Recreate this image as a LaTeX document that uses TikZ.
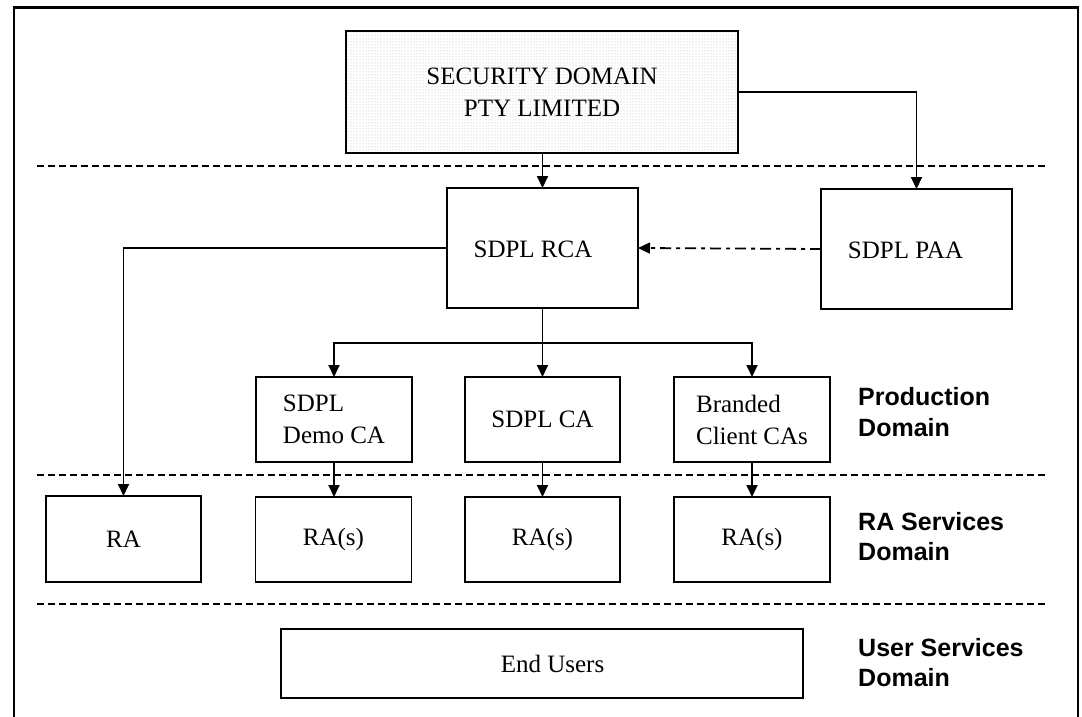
\documentclass[tikz,border=0pt]{standalone}
\usepackage{fontspec}
\setmainfont{Liberation Serif}
\newfontfamily\lsans{Liberation Sans}
\usetikzlibrary{arrows.meta,patterns}
\begin{document}
\begin{tikzpicture}[x=1pt,y=-1pt,
  box/.style={draw,line width=1.8pt,rectangle,inner sep=0pt,outer sep=0pt,
    font=\fontsize{25}{32}\selectfont,align=left},
  txt/.style={inner sep=0pt,font=\fontsize{25}{32}\selectfont},
  lab/.style={inner sep=0pt,anchor=west,align=left,
    font=\lsans\bfseries\fontsize{25}{30.5}\selectfont},
  arr/.style={line width=1.8pt,-{Triangle[length=12pt,width=11pt]}},
  conn/.style={line width=1.8pt},
  sep/.style={line width=1.8pt,dash pattern=on 7pt off 4pt},
  dashdot/.style={line width=1.8pt,dash pattern=on 11pt off 5pt on 4pt off 5pt,
    -{Triangle[length=12pt,width=11pt]}}]
\useasboundingbox (0,0) rectangle (1082,717);
% frame
\draw[line width=2.6pt] (14,717) -- (14,7.7) -- (1078,7.7) -- (1078,717);
% separators
\draw[sep] (37,166) -- (1048,166);
\draw[sep] (37,475) -- (1048,475);
\draw[sep] (37,604) -- (1048,604);
% boxes
\node[box,pattern=dots,pattern color=black!30,minimum width=392pt,minimum height=122pt,align=center]
  (sdpl) at (542,92) {SECURITY DOMAIN\\PTY LIMITED};
\node[box,minimum width=191pt,minimum height=120pt] (rca) at (542.5,248) {};
\node[txt] (rcat) at (533,249) {SDPL RCA};
\node[box,minimum width=191pt,minimum height=120pt] (paa) at (916.5,249) {};
\node[txt] (paat) at (905.5,250) {SDPL PAA};
\node[box,minimum width=156pt,minimum height=85pt] (demo) at (334,419.5) {SDPL\\Demo CA};
\node[box,minimum width=155pt,minimum height=85pt] (ca) at (542.5,419.5) {SDPL CA};
\node[box,minimum width=156pt,minimum height=85pt] (brand) at (752,419.5) {Branded\\Client CAs};
\node[box,minimum width=155pt,minimum height=86pt] (ra) at (123.5,539) {RA};
\node[box,minimum width=156pt,minimum height=85pt] (ras1) at (333.5,539.5) {RA(s)};
\node[box,minimum width=155pt,minimum height=85pt] (ras2) at (542.5,539.5) {RA(s)};
\node[box,minimum width=156pt,minimum height=85pt] (ras3) at (752,539.5) {RA(s)};
\node[box,minimum width=522pt,minimum height=69pt] (end) at (542,663.5) {};
\node[txt] (endt) at (552.5,664) {End Users};
% labels
\node[lab] (l1) at (858,412) {Production\\Domain};
\node[lab] (l2) at (858,536.5) {RA Services\\Domain};
\node[lab] (l3) at (858,662.5) {User Services\\Domain};
% connectors
\draw[arr] (sdpl.south -| rca.north) -- (rca.north);
\draw[arr] (sdpl.east) -| (paa.north);
\draw[dashdot] (paa.west) -- (rca.east);
\draw[arr] (rca.west) -| (ra.north);
\coordinate (bj) at (542.5,343);
\draw[conn] (rca.south) -- (bj);
\draw[arr] (bj) -- (ca.north);
\draw[arr] (bj) -| (demo.north);
\draw[arr] (bj) -| (brand.north);
\draw[arr] (demo.south) -- (ras1.north -| demo.south);
\draw[arr] (ca.south) -- (ras2.north);
\draw[arr] (brand.south) -- (ras3.north);
\end{tikzpicture}
\end{document}
